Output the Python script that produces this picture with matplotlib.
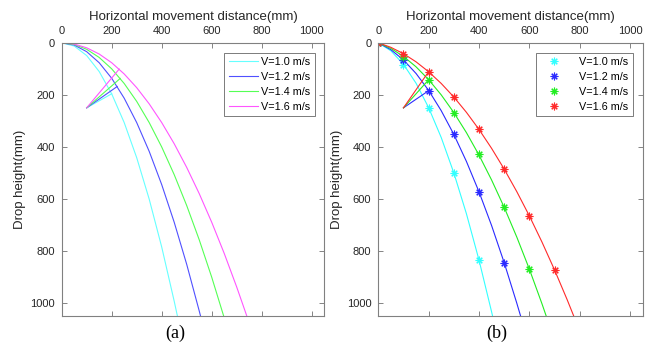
import matplotlib.pyplot as plt

plt.rcParams['font.family'] = ['Liberation Sans', 'DejaVu Sans']

# (a) theoretical trajectories (mm)
speeds = ['V=1.0 m/s', 'V=1.2 m/s', 'V=1.4 m/s', 'V=1.6 m/s']
x_a10 = [0, 50, 100, 150, 200, 250, 300, 350, 400, 450, 463]
y_a10 = [0, 12.3, 49.1, 110.4, 196.2, 306.6, 441.5, 600.9, 784.8, 993.3, 1051]
x_a12 = [0, 50, 100, 150, 200, 250, 300, 350, 400, 450, 500, 550, 556]
y_a12 = [0, 8.5, 34.1, 76.6, 136.3, 212.9, 306.6, 417.3, 545.0, 689.8, 851.6, 1030.4, 1053]
x_a14 = [0, 50, 100, 150, 200, 250, 300, 350, 400, 450, 500, 550, 600, 648]
y_a14 = [0, 6.3, 25.0, 56.3, 100.1, 156.4, 225.2, 306.6, 400.4, 506.8, 625.6, 757.0, 900.9, 1050.8]
x_a16 = [0, 50, 100, 150, 200, 250, 300, 350, 400, 450, 500, 550, 600, 650, 700, 741]
y_a16 = [0, 4.8, 19.2, 43.1, 76.6, 119.8, 172.4, 234.7, 306.6, 388.0, 479.0, 579.6, 689.8, 809.5, 938.9, 1052]

# pointer lines in (a): common start and end point on each curve
ptr_start = (100, 250)
ptr_a_end_x = [200, 222, 234, 230]
ptr_a_end_y = [196, 168, 137, 101]

# (b) fitted curves
x_b10 = [0, 50, 100, 150, 200, 250, 300, 350, 400, 450, 455]
y_b10 = [0, 30.7, 82.5, 155.3, 249.2, 364.1, 500.0, 656.9, 835.0, 1034.0, 1055]
x_b12 = [0, 50, 100, 150, 200, 250, 300, 350, 400, 450, 500, 550, 570]
y_b12 = [0, 26.4, 65.7, 117.9, 183.0, 261.0, 352.0, 455.9, 572.7, 702.4, 845.0, 1000.5, 1066]
x_b14 = [0, 50, 100, 150, 200, 250, 300, 350, 400, 450, 500, 550, 600, 650, 680]
y_b14 = [0, 21.5, 52.2, 92.3, 141.6, 200.2, 268.0, 345.2, 431.6, 527.3, 632.3, 746.5, 870.0, 1002.9, 1087]
x_b16 = [0, 50, 100, 150, 200, 250, 300, 350, 400, 450, 500, 550, 600, 650, 700, 750, 790]
y_b16 = [0, 17.4, 41.8, 73.1, 111.2, 156.3, 208.3, 267.2, 333.0, 405.7, 485.4, 571.9, 665.3, 765.7, 873.0, 987.2, 1083.5]

# (b) measured points
xm10 = [0, 100, 200, 300, 400]
ym10 = [0, 86, 252, 500, 835]
xm12 = [0, 100, 200, 300, 400, 500]
ym12 = [0, 67, 184, 352, 575, 845]
xm14 = [0, 100, 200, 300, 400, 500, 600]
ym14 = [0, 55, 144, 268, 429, 632, 871]
xm16 = [0, 100, 200, 300, 400, 500, 600, 700]
ym16 = [0, 43, 111, 208, 333, 486, 665, 873]

ptr_b_end_x = [200, 200, 200]
ptr_b_end_y = [184, 142, 111]

cols_a = ['#66ffff', '#5050ff', '#55ff55', '#ff55ff']
cols_b = ['#33ffff', '#2a2aff', '#22ee22', '#ff2a2a']

fig = plt.figure(figsize=(6.54, 3.48), dpi=100)
ax1 = fig.add_axes([0.0943, 0.092, 0.4015, 0.785])
ax2 = fig.add_axes([0.5784, 0.092, 0.4043, 0.785])

curves_a = [(x_a10, y_a10), (x_a12, y_a12), (x_a14, y_a14), (x_a16, y_a16)]
for (xs, ys), c, lab in zip(curves_a, cols_a, speeds):
    ax1.plot(xs, ys, color=c, lw=0.8, label=lab)
for ex, ey, c in zip(ptr_a_end_x, ptr_a_end_y, cols_a):
    ax1.plot([ptr_start[0], ex], [ptr_start[1], ey], color=c, lw=0.8)

curves_b = [(x_b10, y_b10), (x_b12, y_b12), (x_b14, y_b14), (x_b16, y_b16)]
meas = [(xm10, ym10), (xm12, ym12), (xm14, ym14), (xm16, ym16)]
for (xs, ys), c in zip(curves_b, cols_b):
    ax2.plot(xs, ys, color=c, lw=0.8)
for (xs, ys), c, lab in zip(meas, cols_b, speeds):
    ax2.plot(xs, ys, ls='none', marker=(8, 2, 0), ms=5.5, mew=0.8, color=c, label=lab)
for ex, ey, c in zip(ptr_b_end_x, ptr_b_end_y, cols_b[1:]):
    ax2.plot([ptr_start[0], ex], [ptr_start[1], ey], color=c, lw=0.8)

for ax in (ax1, ax2):
    ax.set_xlim(0, 1050)
    ax.set_ylim(1050, 0)
    ax.set_xticks([0, 200, 400, 600, 800, 1000])
    ax.set_yticks([0, 200, 400, 600, 800, 1000])
    ax.xaxis.set_label_position('top')
    ax.tick_params(direction='in', top=True, bottom=True, left=True, right=True,
                   labeltop=True, labelbottom=False, length=3.5, width=0.6,
                   colors='#707070', labelcolor='#262626', labelsize=8, pad=5)
    for s in ax.spines.values():
        s.set_color('#808080')
        s.set_linewidth(0.8)
    ax.set_xlabel('Horizontal movement distance(mm)', fontsize=9.5, color='#262626', labelpad=4)
    ax.set_ylabel('Drop height(mm)', fontsize=9.5, color='#262626', labelpad=3)

leg1 = ax1.legend(loc='upper right', fontsize=7.8, frameon=True, fancybox=False,
                  edgecolor='#404040', handlelength=2.7, handletextpad=0.3,
                  labelspacing=0.45, borderaxespad=0.9, borderpad=0.4)
leg1.get_frame().set_linewidth(0.6)
leg2 = ax2.legend(loc='upper right', fontsize=7.8, frameon=True, fancybox=False,
                  edgecolor='#404040', handlelength=2.5, handletextpad=1.1,
                  numpoints=1, labelspacing=0.45, borderaxespad=0.9, borderpad=0.4)
leg2.get_frame().set_linewidth(0.6)

fig.text(175 / 654, 1 - 333 / 348, '(a)', family='Liberation Serif', fontsize=13,
         ha='center', va='center')
fig.text(497 / 654, 1 - 333 / 348, '(b)', family='Liberation Serif', fontsize=13,
         ha='center', va='center')

fig.savefig('out.png', dpi=100)
